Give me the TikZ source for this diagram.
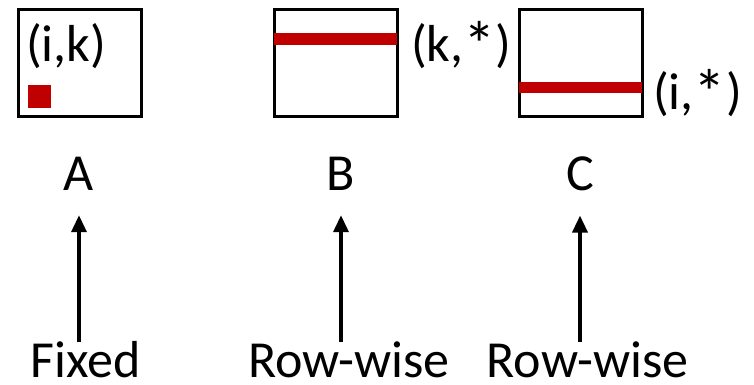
\documentclass[tikz,border=0pt]{standalone}
\usepackage{fontspec}
\setmainfont{Carlito}
\usetikzlibrary{arrows.meta}
\definecolor{cellred}{RGB}{192,0,0}
\newcommand{\bigast}{\raisebox{-6pt}{\scalebox{1.25}{*}}}

\begin{document}
\begin{tikzpicture}[x=1pt, y=1pt, >={Triangle[width=15pt,length=17pt]},
    mat/.style={draw, line width=3pt, minimum width=123pt, minimum height=107pt, inner sep=0pt},
    lbl/.style={inner sep=0pt, font=\fontsize{52}{60}\selectfont},
    arr/.style={->, line width=3.5pt}]
    \useasboundingbox (0,0) rectangle (754,385);

    % Ba ma trận A, B, C
    \node[mat] (boxA) at (80,322) {};
    \node[mat] (boxB) at (335.5,322) {};
    \node[mat] (boxC) at (580.5,322) {};

    % Phần tử (i,k) và các hàng k, i (tô đỏ)
    \fill[cellred] ([shift={(10.5,9.5)}]boxA.south west) rectangle ([shift={(33.5,32.5)}]boxA.south west);
    \fill[cellred] ([shift={(1.5,18)}]boxB.west) rectangle ([shift={(-1.5,30)}]boxB.east);
    \fill[cellred] ([shift={(1.5,-30)}]boxC.west) rectangle ([shift={(-1.5,-19)}]boxC.east);

    % Nhãn chỉ số
    \node[lbl, anchor=base west] (ik) at (26,323) {(i,k)};
    \node[lbl, anchor=base west] (kstar) at (411,323) {(k,\bigast)};
    \node[lbl, anchor=base west] (istar) at (653,275) {(i,\bigast)};

    % Tên ma trận
    \node[lbl, anchor=base] (lblA) at (79,194) {A};
    \node[lbl, anchor=base] (lblB) at (341,194) {B};
    \node[lbl, anchor=base] (lblC) at (580,194) {C};

    % Cách truy cập
    \node[lbl, anchor=base] (fixed) at (85.5,7) {Fixed};
    \node[lbl, anchor=base] (rowB) at (349,7) {Row-wise};
    \node[lbl, anchor=base] (rowC) at (587.5,7) {Row-wise};

    % Mũi tên
    \draw[arr] (fixed.north -| lblA) -- ([yshift=-24pt]lblA.south);
    \draw[arr] (rowB.north -| lblB) -- ([yshift=-24pt]lblB.south);
    \draw[arr] (rowC.north -| lblC) -- ([yshift=-24pt]lblC.south);

\end{tikzpicture}
\end{document}
